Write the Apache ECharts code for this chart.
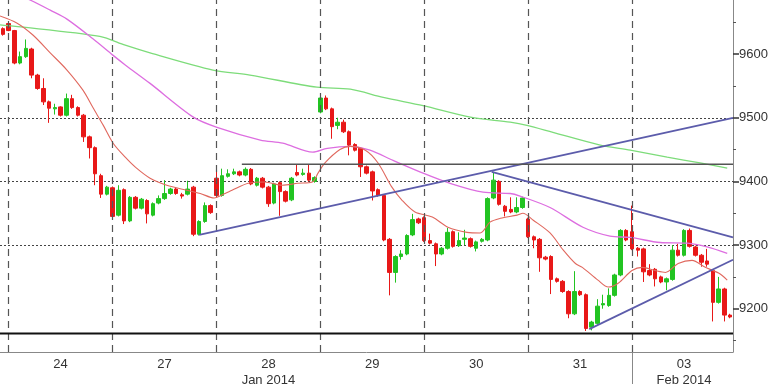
<!DOCTYPE html>
<html><head><meta charset="utf-8">
<script src="https://cdn.jsdelivr.net/npm/echarts@6/dist/echarts.min.js"></script>
<style>html,body{margin:0;padding:0;background:#fff}#c{width:768px;height:384px}</style>
</head><body><div id="c"></div>
<script>
// [open, close, low, high] per hourly bar
const candles = [
[9640,9631,9629,9642],[9648,9637,9636,9652],[9637,9586,9584,9638],[9586,9596,9584,9604],
[9596,9609,9594,9623],[9608,9567,9562,9610],[9567,9546,9544,9569],[9546,9525,9520,9562],
[9525,9515,9492,9527],[9514,9516,9505,9522],[9517,9504,9502,9518],[9504,9530,9502,9538],
[9530,9516,9514,9536],[9516,9504,9502,9518],[9504,9470,9462,9506],[9470,9453,9436,9472],
[9453,9412,9394,9455],[9409,9380,9374,9412],[9380,9391,9378,9393],[9390,9345,9340,9392],
[9347,9386,9345,9394],[9387,9338,9333,9389],[9338,9375,9336,9377],[9375,9358,9356,9377],
[9358,9372,9356,9374],[9370,9349,9334,9372],[9347,9365,9345,9367],[9366,9373,9364,9378],
[9373,9381,9371,9402],[9381,9388,9379,9390],[9388,9381,9379,9390],[9379,9377,9373,9382],
[9380,9388,9378,9401],[9391,9317,9314,9393],[9317,9337,9315,9339],[9337,9362,9335,9367],
[9362,9351,9349,9364],[9405,9378,9374,9419],[9378,9409,9376,9420],[9408,9412,9406,9419],
[9412,9415,9410,9420],[9415,9410,9408,9417],[9410,9419,9408,9422],[9419,9396,9394,9421],
[9394,9405,9392,9407],[9405,9391,9389,9407],[9391,9365,9360,9393],[9366,9396,9364,9398],
[9398,9384,9346,9400],[9384,9369,9367,9386],[9371,9405,9369,9407],[9414,9410,9408,9427],
[9411,9413,9409,9420],[9413,9402,9400,9427],[9400,9406,9398,9408],[9509,9531,9507,9533],
[9531,9514,9512,9535],[9514,9486,9467,9516],[9488,9493,9482,9500],[9493,9478,9476,9497],
[9478,9457,9441,9480],[9458,9449,9447,9460],[9452,9423,9407,9454],[9423,9413,9411,9425],
[9415,9385,9370,9417],[9387,9378,9376,9389],[9378,9308,9306,9380],[9309,9257,9221,9311],
[9257,9282,9241,9284],[9282,9286,9277,9292],[9286,9315,9284,9317],[9316,9340,9314,9349],
[9341,9335,9333,9343],[9343,9307,9305,9345],[9307,9303,9301,9318],[9302,9286,9267,9304],
[9286,9295,9284,9297],[9295,9320,9293,9327],[9321,9298,9296,9323],[9299,9307,9297,9320],
[9309,9311,9300,9324],[9310,9298,9296,9312],[9295,9305,9290,9307],[9306,9309,9304,9311],
[9308,9373,9306,9375],[9374,9402,9372,9415],[9400,9364,9362,9402],[9361,9353,9345,9363],
[9356,9352,9350,9375],[9352,9359,9350,9375],[9359,9374,9357,9376],[9341,9313,9311,9343],
[9313,9308,9295,9315],[9309,9280,9258,9311],[9281,9278,9276,9283],[9282,9246,9223,9284],
[9247,9243,9241,9249],[9243,9227,9225,9245],[9227,9192,9185,9229],[9192,9227,9190,9259],
[9227,9222,9220,9229],[9222,9169,9165,9224],[9171,9179,9166,9181],[9177,9204,9175,9215],
[9206,9208,9200,9222],[9205,9221,9203,9232],[9221,9253,9219,9255],[9253,9323,9251,9325],
[9323,9308,9306,9325],[9321,9294,9292,9362],[9295,9292,9282,9297],[9294,9258,9242,9296],
[9260,9253,9251,9270],[9262,9247,9235,9264],[9250,9242,9240,9252],[9242,9247,9229,9249],
[9246,9292,9244,9300],[9292,9284,9282,9302],[9284,9323,9282,9325],[9323,9298,9296,9326],
[9297,9284,9282,9299],[9284,9273,9266,9286],[9275,9270,9266,9294],[9260,9210,9180,9262],
[9210,9231,9208,9250],[9231,9190,9180,9233],[9190,9187,9185,9192]
];

// moving averages [bar position, value]
const maFast = [[-0.5,9660],[2.4,9649],[5.2,9630],[8.2,9602],[11.1,9575],[13.9,9543],[15.6,9516],[17.4,9488],[19.1,9460],[21.2,9438],[23,9422],[25.5,9405],[28.4,9394],[31.9,9386],[34.2,9381],[36.6,9374],[38.5,9381],[39.7,9386],[42.5,9397],[45.4,9399],[48.4,9394],[51.1,9397],[53.6,9399],[54.6,9413],[55.8,9429],[58.4,9450],[60.2,9455],[62.8,9449],[65,9429],[67.4,9391],[69.2,9370],[71.4,9352],[74.4,9344],[77.1,9328],[80.4,9320],[82.7,9319],[84.4,9336],[86.2,9342],[89.1,9347],[90.1,9350],[91.9,9339],[94.8,9319],[97.1,9292],[99.2,9271],[100.4,9265],[103.1,9245],[104.9,9234],[106.6,9240],[109,9260],[110.8,9265],[113,9260],[114.8,9257],[117,9271],[119.4,9276],[121.7,9265],[124,9256],[125.5,9245]];
const maMid = [[-0.5,9706],[4.7,9685],[8.2,9669],[11.1,9655],[15.6,9624],[19.1,9598],[21.2,9583],[25.5,9554],[33,9501],[37.1,9485],[44.6,9465],[48.5,9460],[53.7,9446],[56.2,9452],[60.2,9455],[63.6,9449],[67.6,9433],[72.8,9413],[77.5,9397],[83.2,9383],[87.9,9381],[89.6,9377],[94.8,9359],[100.5,9328],[105.2,9314],[108.7,9312],[113.9,9304],[118.6,9303],[122,9297],[125.5,9287]];
const maSlow = [[-0.5,9646],[1.8,9644],[16.8,9628],[21.2,9614],[25.5,9602],[36.4,9575],[42.8,9567],[54.4,9548],[60.2,9545],[65.9,9532],[72.8,9519],[81,9501],[87.9,9493],[90.8,9488],[95.3,9477],[103.5,9457],[108.7,9449],[115.1,9438],[120.8,9429],[125.5,9421]];

// trend / level lines
const trendUp = [[34,9316],[126.5,9500]];
const trendDown = [[84.7,9415],[126.5,9312]];
const trendLow = [[101.6,9168],[126.5,9277]];
const resistance = [[41.4,9427],[126.5,9427]];
const support = [[-0.5,9161],[126.5,9161]];

const dayStarts = [1,19,37,55,73,91,109];
const labelIdx = [10,28,46,64,82,100,118];
const dayLabels = ['24','27','28\nJan 2014','29','30','31','03\nFeb 2014'];
const yTicks = [9200,9300,9400,9500,9600];
const yMinor = [9150,9250,9350,9450,9550,9650];
const monthSplit = 109;

const categories = candles.map((_, i) => String(i));
const FONT = 'Liberation Sans';
const Y_MIN = 9132, Y_MAX = 9685;

function ln(data, color, width, z, smooth) {
  return {type:'line', xAxisIndex:1, yAxisIndex:0, data, symbol:'none', showSymbol:false,
    smooth: smooth || false, lineStyle:{color, width}, z, silent:true, animation:false};
}

const gridBox = {left:0, right:35, top:0, bottom:32, containLabel:false, outerBoundsMode:'none'};

const chart = echarts.init(document.getElementById('c'), null, {renderer:'canvas'});
chart.setOption({
  animation:false,
  backgroundColor:'#ffffff',
  grid:[Object.assign({}, gridBox), Object.assign({}, gridBox)],
  xAxis:[{
    type:'category', gridIndex:0, data:categories, boundaryGap:true,
    axisLine:{show:true, onZero:false, lineStyle:{color:'#888', width:1}},
    axisTick:{show:true, alignWithLabel:true, interval:(i)=>i===monthSplit, length:32, lineStyle:{color:'#888', width:1}},
    axisLabel:{show:true, interval:(i)=>labelIdx.includes(i), color:'#333', fontSize:13, fontFamily:FONT, margin:4, lineHeight:16,
      formatter:(v, i)=>{const k = labelIdx.indexOf(i); return k>=0 ? dayLabels[k] : '';}},
    splitLine:{show:false}
  },{
    type:'value', gridIndex:0, min:-0.5, max:126.5, show:false, axisLine:{onZero:false}, splitLine:{show:false}
  },{
    type:'value', gridIndex:1, min:0, max:1, show:false, axisLine:{onZero:false}, splitLine:{show:false}
  }],
  yAxis:[{
    type:'value', gridIndex:0, position:'right', min:Y_MIN, max:Y_MAX, scale:true, splitNumber:5,
    axisLine:{show:true, onZero:false, lineStyle:{color:'#888', width:1}},
    axisTick:{show:true, customValues:yTicks, length:6, lineStyle:{color:'#333', width:1.5}},
    axisLabel:{show:true, customValues:yTicks, color:'#333', fontSize:13, fontFamily:FONT, margin:6,
      formatter:(v)=>String(v)},
    splitLine:{show:true, showMinLine:false, showMaxLine:false, lineStyle:{color:'#444', type:[2,2], width:1}}
  },{
    type:'value', gridIndex:1, position:'right', min:Y_MIN, max:Y_MAX,
    axisLine:{show:false, onZero:false}, axisLabel:{show:false}, splitLine:{show:false},
    axisTick:{show:true, customValues:yMinor, length:3, lineStyle:{color:'#555', width:1}}
  }],
  series:[
    {type:'candlestick', xAxisIndex:0, yAxisIndex:0, data:candles, barWidth:4, z:3,
      itemStyle:{color:'#22c422', color0:'#e81818', borderColor:'#22c422', borderColor0:'#e81818', borderWidth:1}},
    ln(maSlow, '#7ddc7a', 1.3, 4, 0.3),
    ln(maMid, '#dd6ee0', 1.3, 4, 0.3),
    ln(maFast, '#e0685e', 1.1, 4, 0.3),
    ln(trendUp, '#5c5cab', 1.8, 5),
    ln(trendDown, '#5c5cab', 1.8, 5),
    ln(trendLow, '#5c5cab', 1.8, 5),
    ln(resistance, '#555555', 1.4, 5),
    Object.assign(ln(support, '#111111', 2, 5), {
      markLine:{symbol:'none', silent:true, label:{show:false}, animation:false,
        lineStyle:{color:'#555', type:[7,5], width:1.2},
        data: dayStarts.map(x=>({xAxis:x}))}
    })
  ]
});
</script></body></html>
